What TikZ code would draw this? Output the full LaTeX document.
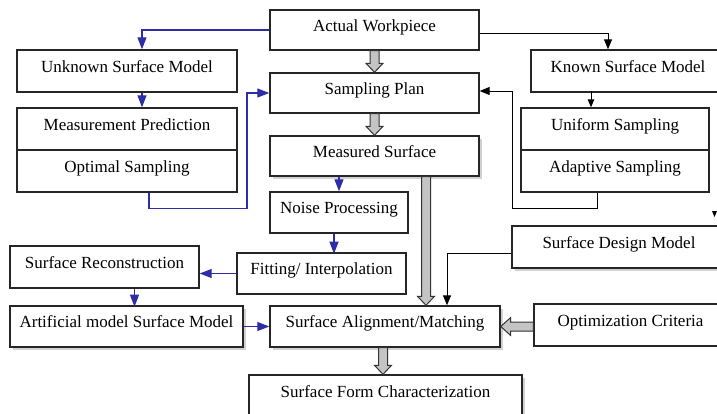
\documentclass[tikz,border=0pt]{standalone}
\usepackage{fontspec}
\setmainfont{Liberation Serif}
\usetikzlibrary{arrows.meta,calc,shadows}
\definecolor{lnblue}{RGB}{45,45,165}
\definecolor{blkgray}{RGB}{196,196,196}
\tikzset{
 box/.style={draw=black!85, line width=1.4pt, fill=white, inner sep=0pt, text height=12pt, text depth=10pt, font=\fontsize{17}{20}\selectfont},
 shad/.style={drop shadow={shadow xshift=2.5pt, shadow yshift=-2.5pt, fill=black!18, opacity=1}},
 bl/.style={draw=lnblue, line width=1.1pt, -{Triangle[length=12pt,width=9pt]}},
 bk/.style={draw=black, line width=1pt, -{Triangle[length=10pt,width=8pt]}},
 bks/.style={draw=black, line width=1pt, -{Triangle[length=8pt,width=6.5pt]}},
 blk/.style={draw=black!80, line width=1pt, fill=blkgray, line join=miter},
}
\newcommand\blockdown[2]{\draw[blk] let \p1=(#1), \p2=(#2) in
  (\x1-4.5pt,\y1) -- (\x1-4.5pt,\y2+9pt) -- (\x1-8.5pt,\y2+9pt) -- (\x1,\y2) -- (\x1+8.5pt,\y2+9pt) -- (\x1+4.5pt,\y2+9pt) -- (\x1+4.5pt,\y1) -- cycle;}
\newcommand\blockleft[2]{\draw[blk] let \p1=(#1), \p2=(#2) in
  (\x1,\y1+4.5pt) -- (\x2+10pt,\y1+4.5pt) -- (\x2+10pt,\y1+9pt) -- (\x2,\y1) -- (\x2+10pt,\y1-9pt) -- (\x2+10pt,\y1-4.5pt) -- (\x1,\y1-4.5pt) -- cycle;}
\begin{document}
\begin{tikzpicture}[x=1pt,y=-1pt]
\useasboundingbox (0,0) rectangle (717,413);
\clip (0,0) rectangle (717,413);
\fill[white] (0,0) rectangle (717,413);
% nodes
\node[box, minimum width=209pt, minimum height=40pt] (aw) at (374.5,30) {Actual Workpiece};
\node[box, minimum width=220pt, minimum height=42pt] (um) at (127,71) {Unknown Surface Model};
\node[box, minimum width=220pt, minimum height=42pt] (mp) at (127,129) {Measurement Prediction};
\node[box, minimum width=220pt, minimum height=42pt] (os) at (127,171) {Optimal Sampling};
\node[box, minimum width=209pt, minimum height=40pt] (sp) at (374.5,93) {Sampling Plan};
\node[box, shad, minimum width=209pt, minimum height=40pt] (ms) at (374.5,156) {Measured Surface};
\node[box, minimum width=194pt, minimum height=42pt] (ks) at (628,71) {Known Surface Model};
\node[box, minimum width=188pt, minimum height=42pt] (us) at (615,129) {Uniform Sampling};
\node[box, minimum width=188pt, minimum height=42pt] (as) at (615,171) {Adaptive Sampling};
\node[box, minimum width=138pt, minimum height=41pt] (np) at (339,212.5) {Noise Processing};
\node[box, minimum width=169pt, minimum height=41pt] (fi) at (321.5,273.5) {Fitting/ Interpolation};
\node[box, minimum width=189pt, minimum height=42pt] (sr) at (104.5,267) {Surface Reconstruction};
\node[box, shad, minimum width=233pt, minimum height=41pt] (art) at (126.5,326.5) {Artificial model Surface Model};
\node[box, shad, minimum width=230pt, minimum height=41pt] (al) at (385,326.5) {Surface Alignment/Matching};
\node[box, shad, minimum width=273pt, minimum height=42pt] (fc) at (385.5,396) {Surface Form Characterization};
\node[box, shad, minimum width=214pt, minimum height=42pt] (sdm) at (619,247) {Surface Design Model};
\node[box, minimum width=193pt, minimum height=42pt] (oc) at (630.5,325) {Optimization Criteria};
% blue connectors
\draw[bl] (aw.west) -| ([xshift=15pt]um.north);
\draw[bl] ([xshift=15pt]um.south) -- ([xshift=15pt]mp.north);
\draw[bl] ([xshift=22pt]os.south) -- ++(0,16) -- ++(98,0) |- (sp.west);
\draw[bl] (ms.south -| np.north) -- (np.north);
\draw[bl] ([xshift=-5pt]np.south) -- ++(0,20);
\draw[bl] (fi.west) -- (fi.west -| sr.east);
\draw[bl] ([xshift=30pt]sr.south) -- ++(0,18);
\draw[bl] (art.east) -- (al.west);
% black connectors
\draw[bk] ([yshift=-3pt]aw.east) -| ([xshift=-20pt]ks.north);
\draw[bks] ([xshift=-24pt]us.north) ++(0,-16) -- ([xshift=-24pt]us.north);
\draw[bk] ([xshift=-18pt]as.south) -- ++(0,16) -- ++(-85,0) |- ([yshift=2pt]sp.east);
\draw[bk] ([yshift=-6pt]sdm.west) -| ([xshift=62pt]al.north);
% block arrows
\blockdown{aw.south}{sp.north}
\blockdown{sp.south}{ms.north}
\blockdown{[xshift=51.5pt]ms.south}{[xshift=51.5pt]al.north}
\blockdown{[xshift=-2pt]al.south}{[xshift=-2pt]fc.north}
\blockleft{oc.west |- al.east}{al.east}
% cut-off mark at right edge
\fill (712,211) -- (717,211) -- (714.5,217) -- cycle;
\end{tikzpicture}
\end{document}
